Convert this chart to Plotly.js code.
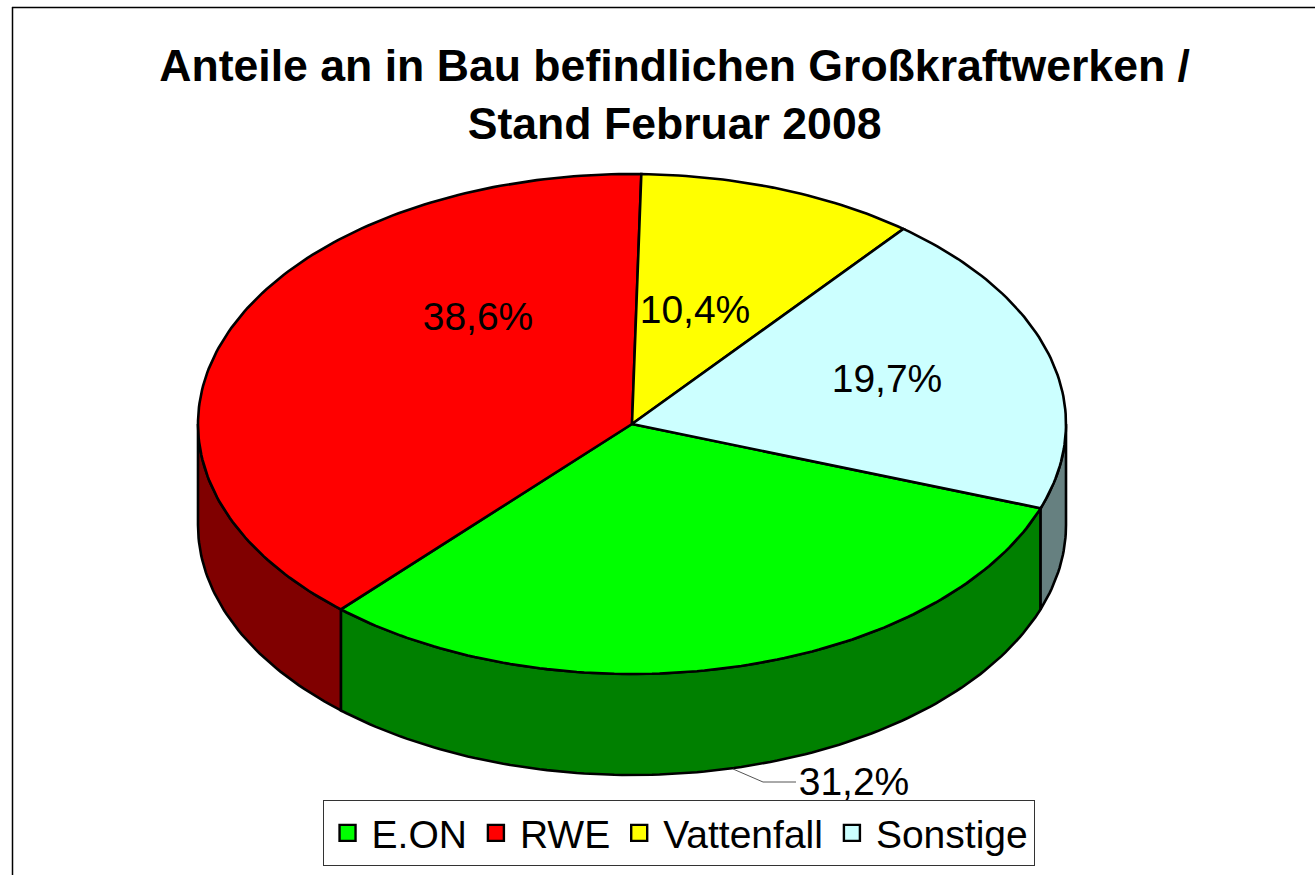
<!DOCTYPE html>
<html>
<head>
<meta charset="utf-8">
<script src="https://cdn.plot.ly/plotly-3.0.1.min.js"></script>
<style>html,body{margin:0;padding:0;background:#fff;overflow:hidden}#chart{width:1315px;height:875px}</style>
</head>
<body>
<div id="chart"></div>
<script>
const categories = ["E.ON", "RWE", "Vattenfall", "Sonstige"];
const shares = [31.2, 38.6, 10.4, 19.7];
const labelTexts = ["31,2%", "38,6%", "10,4%", "19,7%"];
const topColors = ["#00ff00", "#ff0000", "#ffff00", "#ccffff"];
const sideColors = ["#008000", "#800000", "#808000", "#668080"];
const titleText = "Anteile an in Bau befindlichen Großkraftwerken /<br>Stand Februar 2008";

// Tilted-pie geometry, in axis units equal to page pixels
const cx = 632, cy = 424, rx = 434, ry = 250, depth = 101;
const startDeg = -19.7;
const total = shares.reduce((a, b) => a + b, 0);
const px = d => cx + rx * Math.cos(d * Math.PI / 180);
const py = d => cy - ry * Math.sin(d * Math.PI / 180);

// slice angle ranges running clockwise, normalised so each slice's upper angle is above -180
let cursor = startDeg;
const ranges = shares.map(v => {
  const a = cursor; cursor -= v / total * 360;
  const off = a <= -180 ? 360 : 0;
  return [a + off, cursor + off];
});

function arc(a, b) {
  const n = Math.max(2, Math.ceil(Math.abs(a - b) / 1));
  const xs = [], ys = [];
  for (let i = 0; i <= n; i++) { const d = a + (b - a) * i / n; xs.push(px(d)); ys.push(py(d)); }
  return [xs, ys];
}
const traces = [];
const base = {type: "scatter", mode: "lines", fill: "toself", hoverinfo: "skip", showlegend: false, line: {color: "#000", width: 2.6}};

// Side walls: only the front half of each slice is visible
ranges.forEach((r, i) => {
  const from = Math.min(r[0], 0), to = Math.max(r[1], -180);
  if (from <= to) return;
  const [xs, ys] = arc(from, to);
  const x = xs.concat(xs.slice().reverse(), [xs[0]]);
  const y = ys.concat(ys.slice().reverse().map(v => v + depth), [ys[0]]);
  traces.push(Object.assign({}, base, {x, y, fillcolor: sideColors[i]}));
});
// Top faces
ranges.forEach((r, i) => {
  const [xs, ys] = arc(r[0], r[1]);
  traces.push(Object.assign({}, base, {x: [cx].concat(xs, [cx]), y: [cy].concat(ys, [cy]), fillcolor: topColors[i]}));
});
// Legend entries
categories.forEach((c, i) => traces.push({
  type: "scatter", mode: "markers", x: [null], y: [null], name: c, hoverinfo: "skip",
  marker: {symbol: "square", size: 19, color: topColors[i], line: {color: "#000", width: 2.4}}
}));
// Data labels
const labelX = [854, 478, 695, 887];
const labelY = [785, 320, 313, 382];
traces.push({type: "scatter", mode: "text", x: labelX, y: labelY, text: labelTexts, showlegend: false, hoverinfo: "skip",
  textposition: "middle center", textfont: {family: "Liberation Sans, Arial, sans-serif", size: 39, color: "#000"}});
// Leader line
traces.push({type: "scatter", mode: "lines", x: [733, 763, 796], y: [769, 782, 782], showlegend: false, hoverinfo: "skip",
  line: {color: "#555", width: 1}});

const layout = {
  width: 1315, height: 875, margin: {l: 0, r: 0, t: 0, b: 0},
  paper_bgcolor: "#fff", plot_bgcolor: "#fff", showlegend: true,
  font: {family: "Liberation Sans, Arial, sans-serif", color: "#000"},
  title: {text: titleText, x: 0.513, xanchor: "center", y: 0.9075, yanchor: "top", yref: "container",
    font: {family: "Liberation Sans, Arial, sans-serif", size: 44.6, weight: 700, color: "#000"}},
  xaxis: {range: [0, 1315], visible: false, fixedrange: true},
  yaxis: {range: [875, 0], visible: false, fixedrange: true},
  legend: {orientation: "h", x: 0.516, xanchor: "center", y: 0.0103, yanchor: "bottom", bgcolor: "#fff", bordercolor: "#333", borderwidth: 1,
    font: {size: 39, family: "Liberation Sans, Arial, sans-serif", color: "#000"}, itemwidth: 38, traceorder: "normal"},
  shapes: [
    {type: "line", xref: "x", yref: "y", x0: 12.5, x1: 12.5, y0: 7, y1: 875, line: {color: "#000", width: 1.5}},
    {type: "line", xref: "x", yref: "y", x0: 12, x1: 1315, y0: 7.5, y1: 7.5, line: {color: "#000", width: 1.5}}
  ]
};
Plotly.newPlot("chart", traces, layout, {displayModeBar: false, staticPlot: true});
</script>
</body>
</html>
